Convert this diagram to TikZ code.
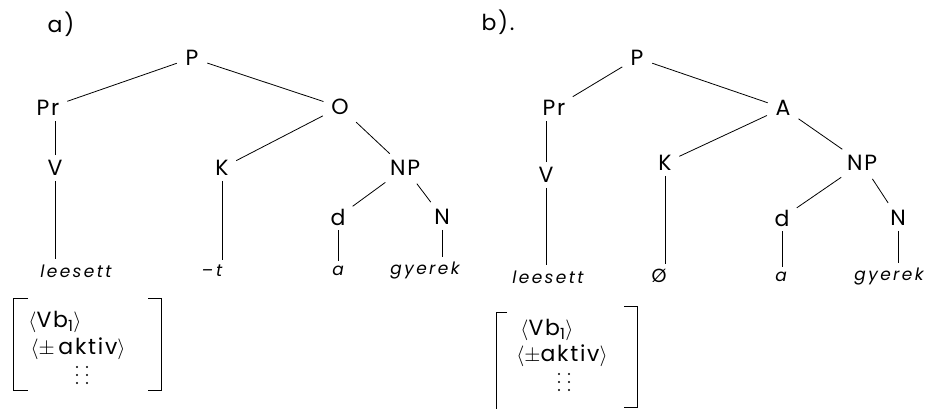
\documentclass[tikz,border=0pt]{standalone}
\usepackage{fontspec}
\setmainfont{Poppins}
\newfontfamily\labfam{Poppins}[LetterSpace=8]
\newfontfamily\leaffam{Poppins}[LetterSpace=14]
\newcommand{\labfont}{\labfam\fontsize{22}{25}\selectfont}
\newcommand{\leaffont}{\leaffam\itshape\fontsize{17}{20}\selectfont}
\newcommand{\featfont}{\labfam\fontsize{22}{25}\selectfont}
\tikzset{
  lab/.style={font=\labfont, inner sep=3pt},
  leaf/.style={font=\leaffont, inner sep=3pt},
  feat/.style={font=\featfont, inner sep=0pt},
  edge/.style={line width=0.8pt, shorten <=2pt, shorten >=2pt},
  diag/.style={line width=0.8pt, shorten <=6pt, shorten >=5pt},
  brk/.style={line width=0.9pt},
  dot/.style={fill=black}
}
\newcommand{\fdots}[2]{%
  \foreach \dx in {-5,5} {\foreach \dy in {-8,0,8} {\fill[dot] (#1+\dx,#2+\dy) circle (1.1);}}}
\begin{document}
\begin{tikzpicture}[x=1pt,y=-1pt]
\path[use as bounding box] (0,0) rectangle (928,409);
% ---------- a) ----------
\node[lab] (tagA) at (61,24) {a)};
\node[lab] (Pa) at (192,58) {P};
\node[lab] (Pra) at (48,108) {Pr};
\node[lab] (Oa) at (340,107) {O};
\node[lab] (Va) at (55,168) {V};
\node[lab] (Ka) at (222,168) {K};
\node[lab] (NPa) at (405,168) {NP};
\node[lab] (da) at (338,217) {d};
\node[lab] (Na) at (442,217) {N};
\node[leaf] (leesa) at (76,271) {leesett};
\node[leaf] (ta) at (212,271) {–\,t};
\node[leaf] (aa) at (338,271) {a};
\node[leaf] (gya) at (425,271) {gyerek};
\draw[diag] (Pa) -- (Pra);
\draw[diag] (Pa) -- (Oa);
\draw[edge] (Va) -- (Va |- Pra.south);
\draw[diag] (Oa) -- (Ka);
\draw[diag] (Oa) -- (NPa);
\draw[diag] (NPa) -- (da);
\draw[diag] (NPa) -- (Na);
\draw[edge] (Va) -- (Va |- leesa.north);
\draw[edge] (Ka) -- (Ka |- ta.north);
\draw[edge] (da) -- (da |- aa.north);
\draw[edge] (Na) -- (Na |- gya.north);
\draw[brk] (28,298) -- (13,298) -- (13,390) -- (28,390);
\draw[brk] (148,298) -- (161,298) -- (161,390) -- (148,390);
\node[feat] (fa1) at (55,322) {$\big\langle$Vb\textsubscript{1}$\big\rangle$};
\node[feat] (fa2) at (78,349) {$\big\langle\pm$\,aktiv$\big\rangle$};
\fdots{82}{375}
% ---------- b) ----------
\node[lab] (tagB) at (498,22) {b).};
\node[lab] (Pb) at (637,58) {P};
\node[lab] (Prb) at (554,108) {Pr};
\node[lab] (Ab) at (783,108) {A};
\node[lab] (Vb) at (546,175) {V};
\node[lab] (Kb) at (665,163) {K};
\node[lab] (NPb) at (862,163) {NP};
\node[lab] (db) at (782,218) {d};
\node[lab] (Nb) at (898,218) {N};
\node[leaf] (leesb) at (548,277) {leesett};
\node[leaf, font=\labfam\fontsize{19}{22}\selectfont] (zb) at (659,276) {Ø};
\node[leaf] (ab) at (781,277) {a};
\node[leaf] (gyb) at (889,277) {gyerek};
\draw[diag] (Pb) -- (Prb);
\draw[diag] (Pb) -- (Ab);
\draw[edge] (Vb) -- (Vb |- Prb.south);
\draw[diag] (Ab) -- (Kb);
\draw[diag] (Ab) -- (NPb);
\draw[diag] (NPb) -- (db);
\draw[diag] (NPb) -- (Nb);
\draw[edge] (Vb) -- (Vb |- leesb.north);
\draw[edge] (Kb) -- (Kb |- zb.north);
\draw[edge] (db) -- (db |- ab.north);
\draw[edge] (Nb) -- (Nb |- gyb.north);
\draw[brk] (507,312) -- (496,312) -- (496,409);
\draw[brk] (624,306) -- (637,306) -- (637,407) -- (624,407);
\node[feat] (fb1) at (547,330) {$\big\langle$Vb\textsubscript{1}$\big\rangle$};
\node[feat] (fb2) at (562,356) {$\big\langle\pm$aktiv$\big\rangle$};
\fdots{564}{382}
\end{tikzpicture}
\end{document}
